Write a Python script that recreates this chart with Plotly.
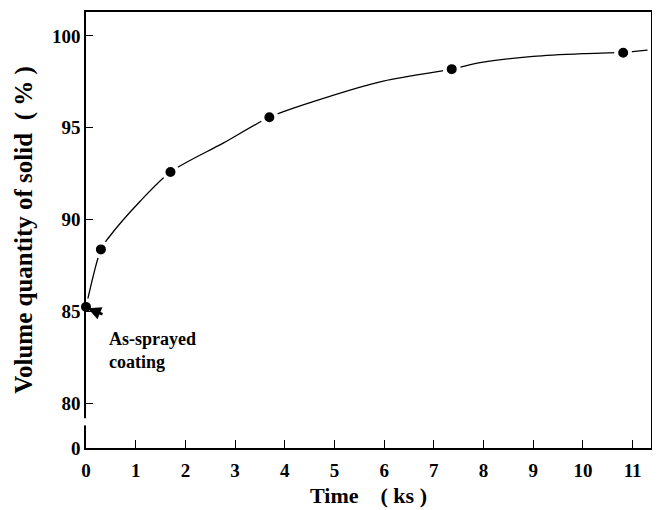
import plotly.graph_objects as go

# Measured points (time in ks, volume quantity of solid in %)
time_ks = [0.0, 0.3, 1.70, 3.69, 7.36, 10.81]
solid_pct = [85.25, 88.38, 92.59, 95.57, 98.19, 99.08]

# Fitted curve
curve_x = [0.0, 0.3, 0.45, 1.09, 1.7, 2.76, 3.69, 4.57, 5.92, 7.36, 7.93, 9.0, 10.0, 10.81, 11.3]
curve_y = [85.25, 88.38, 89.0, 91.0, 92.59, 94.16, 95.57, 96.42, 97.5, 98.19, 98.55, 98.88, 99.03, 99.1, 99.22]

x_ticks = list(range(0, 12))
y_ticks = [80, 85, 90, 95, 100]
y_bottom = 77.57   # axis bottom, labelled "0" (broken axis)
y_top = 101.3
x_max = 11.37

FONT = "Liberation Serif"

fig = go.Figure()
fig.add_trace(go.Scatter(
    x=curve_x, y=curve_y, mode="lines",
    line=dict(color="black", width=1.3, shape="spline", smoothing=0.8),
    hoverinfo="skip", showlegend=False, cliponaxis=False))
fig.add_trace(go.Scatter(
    x=time_ks, y=solid_pct, mode="markers",
    marker=dict(color="black", size=14, line=dict(color="white", width=4)),
    showlegend=False, cliponaxis=False))

# page body has an 8px margin, so the figure is sized to fill the rest of the window
fig.update_layout(
    width=652, height=502,
    margin=dict(l=78, r=9, t=2, b=62),
    paper_bgcolor="white", plot_bgcolor="white",
    font=dict(family=FONT, color="black"),
    xaxis=dict(
        range=[0, x_max], tickvals=x_ticks, ticktext=[str(v) for v in x_ticks],
        ticks="inside", ticklen=8, tickwidth=1, tickcolor="black",
        showline=True, linecolor="black", linewidth=1.5, mirror=True,
        showgrid=False, zeroline=False, ticklabelstandoff=4,
        tickfont=dict(family=FONT, size=19, weight="bold"),
        title=dict(text="Time    ( ks )", font=dict(family=FONT, size=22, weight="bold"), standoff=8),
    ),
    yaxis=dict(
        range=[y_bottom, y_top],
        tickvals=[y_bottom] + y_ticks, ticktext=["0"] + [str(v) for v in y_ticks],
        ticks="inside", ticklen=7, tickwidth=1, tickcolor="black",
        showline=True, linecolor="black", linewidth=1.5, mirror=True,
        showgrid=False, zeroline=False,
        tickfont=dict(family=FONT, size=19, weight="bold"),
        title=dict(text="Volume quantity of solid  ( % )", font=dict(family=FONT, size=25, weight="bold"), standoff=12),
    ),
    shapes=[dict(type="rect", xref="paper", yref="y", x0=-0.01, x1=0.01,
                 y0=78.8, y1=79.19, fillcolor="white", line=dict(width=0), layer="above")],
    annotations=[
        dict(x=0.02, y=85.2, xref="x", yref="y", text="", showarrow=True,
             arrowhead=2, arrowsize=1.0, arrowwidth=2.6, arrowcolor="black",
             ax=17, ay=7, standoff=1),
        dict(x=0.42, y=82.9, xref="x", yref="y", xanchor="left", yanchor="middle",
             text="As-sprayed<br>coating", showarrow=False, align="left",
             font=dict(family=FONT, size=18, weight="bold")),
    ],
)

fig.write_html("out.html")
